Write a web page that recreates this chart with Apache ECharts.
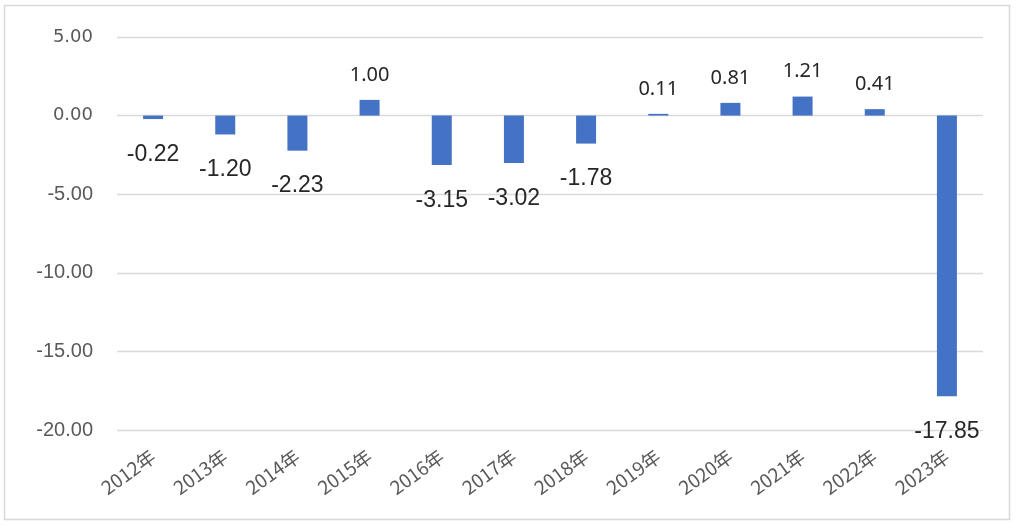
<!DOCTYPE html>
<html>
<head>
<meta charset="utf-8">
<script src="https://cdn.jsdelivr.net/npm/echarts@6/dist/echarts.min.js"></script>
<style>
html,body{margin:0;padding:0;background:#fff;}
#chart{width:1016px;height:526px;}
</style>
</head>
<body>
<div id="chart"></div>
<script>
const categories = ['2012年','2013年','2014年','2015年','2016年','2017年','2018年','2019年','2020年','2021年','2022年','2023年'];
const values = [-0.22,-1.20,-2.23,1.00,-3.15,-3.02,-1.78,0.11,0.81,1.21,0.41,-17.85];
const yTicks = [-20,-15,-10,-5,0,5];

const chart = echarts.init(document.getElementById('chart'));
const posLabel = {position:'top', distance:15, fontSize:20, fontFamily:'Noto Sans', color:'#262626'};
const negLabel = {position:'bottom', distance:24, fontSize:23, fontFamily:'Liberation Sans', color:'#262626'};
chart.setOption({
  animation:false,
  graphic:[{type:'rect', shape:{x:4.5,y:5.5,width:1005,height:514}, style:{fill:'none', stroke:'#d9d9d9', lineWidth:1.5}, silent:true, z:-1}],
  grid:{left:117, right:33, top:37, bottom:96},
  xAxis:{
    type:'category', data:categories,
    axisLine:{show:false}, axisTick:{show:false},
    axisLabel:{rotate:36, margin:24, fontSize:19, color:'#595959', fontFamily:'Noto Sans CJK SC', interval:0}
  },
  yAxis:{
    type:'value', min:yTicks[0], max:yTicks[yTicks.length-1], interval:5,
    axisLine:{show:false}, axisTick:{show:false},
    splitLine:{lineStyle:{color:'#d9d9d9', width:1.3}},
    axisLabel:{
      margin:24, color:'#595959',
      formatter:v=>(v<0?'{n|':'{p|')+v.toFixed(2)+'}',
      rich:{
        p:{fontSize:18, fontFamily:'DejaVu Sans', color:'#595959'},
        n:{fontSize:20, fontFamily:'Liberation Sans', color:'#595959'}
      }
    }
  },
  series:[{
    type:'bar', barWidth:20,
    itemStyle:{color:'#4472C4'},
    data: values.map(v=>({value:v, label:Object.assign({show:true, formatter:p=>p.value.toFixed(2)}, v<0?negLabel:posLabel)}))
  }]
});
</script>
</body>
</html>
